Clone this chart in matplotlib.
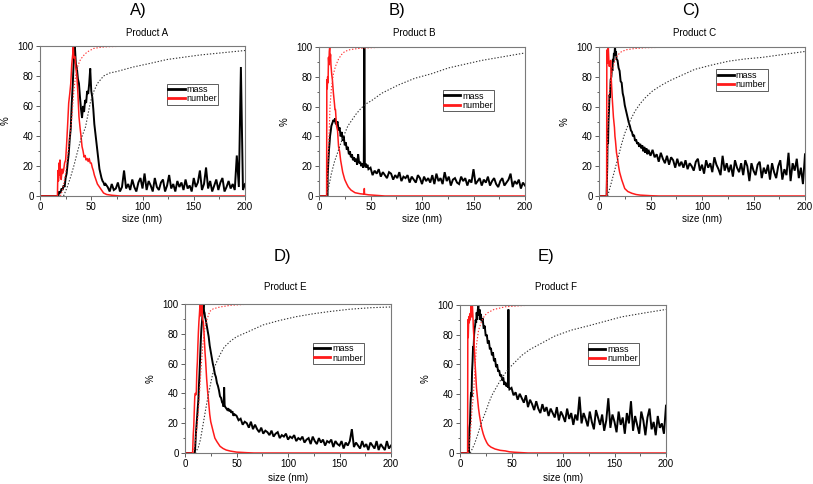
import numpy as np
import matplotlib
matplotlib.use("Agg")
import matplotlib.pyplot as plt
from matplotlib.ticker import MultipleLocator

plt.rcParams["font.family"] = ["Liberation Sans", "DejaVu Sans"]

# ---- Product A ----
a_mass_x = [0, 18, 18.5, 20, 21, 22, 23, 24, 25, 26,
            27, 28, 29, 30, 31, 32, 33, 34, 35, 36, 37, 38, 39, 40, 41, 42, 43, 44, 45, 46,
            47, 48, 49, 50, 51, 52, 53, 54, 55, 56, 57, 58, 59, 60, 61, 62, 63, 64]
a_mass_y = [0, 0, 3, 2, 5, 4, 7, 6, 12, 15,
            22, 28, 38, 45, 62, 75, 92, 100, 88, 85, 78, 75, 66, 58, 52, 60, 56, 64, 62, 70,
            68, 75, 85, 70, 66, 58, 48, 42, 36, 30, 24, 18, 15, 12, 10, 9, 7, 8]
a_mass_tail = [6, 3, 8, 4, 5, 9, 3, 6, 17, 5, 8, 4, 11, 6, 3, 9, 12, 5, 15, 4,
               10, 7, 3, 12, 6, 4, 9, 11, 3, 7, 14, 5, 8, 3, 10, 6, 9, 4, 11, 5,
               7, 3, 12, 6, 9, 17, 4, 8, 19, 5, 10, 3, 7, 11, 4, 9, 12, 3, 6, 10,
               5, 8, 4, 27, 6, 86, 4, 8]
a_num_x = [0, 17, 17.5, 18, 18.5, 19, 19.5, 20, 20.7, 21.5,
           22, 23, 24, 25, 26, 27, 28, 29, 30, 31,
           32, 32.5, 33, 34, 35, 36, 37, 38, 39, 40,
           41, 42, 43, 44, 45, 46, 47, 48, 49, 50,
           51, 52, 53, 54, 55, 56, 58, 60, 62, 65, 70, 78, 200]
a_num_y = [0, 0, 17, 10, 22, 14, 24, 12, 11, 18,
           15, 17, 22, 24, 35, 48, 62, 68, 75, 88,
           95, 100, 92, 93, 85, 80, 68, 53, 46, 40,
           33, 30, 26, 27, 24, 25, 23, 25, 22, 22,
           19, 17, 14, 12, 10, 8, 6, 4, 2, 1, 0.5, 0, 0]
a_cnum_x = [20, 22, 25, 28, 30, 31.4, 33, 34.7, 37, 39.5, 43, 46, 52.5, 60, 65.5, 80, 100, 200]
a_cnum_y = [0, 4, 15, 33, 45, 55, 70, 80, 87, 91, 94, 96, 98.4, 99.2, 99.5, 99.8, 100, 100]
a_cmass_x = [23, 26.6, 30, 33, 36, 39.5, 44.4, 49, 52, 56,
             62, 68, 75, 91, 108, 124, 140, 156, 178, 200]
a_cmass_y = [0, 6, 13, 20, 28, 37, 46, 62, 69, 75,
             80, 82, 83, 86, 88.5, 91, 92.5, 94, 95.5, 97]

# ---- Product B ----
b_mass_x = [0, 8.3, 8.4, 9, 9.7, 10.3, 10.7, 11.5, 12, 13,
            14, 15, 15.5, 16, 17, 18, 19, 20, 21, 22,
            23, 24, 25, 26, 27, 28, 29, 30, 31, 32,
            33, 34, 35, 36, 37, 38, 39, 40, 41, 42,
            43, 43.5, 44, 44.5, 45, 46, 47, 48]
b_mass_y = [0, 0, 13, 22, 31, 36, 40, 44, 47, 49,
            51, 50, 52, 49, 48, 50, 44, 46, 40, 43,
            37, 40, 34, 36, 31, 33, 28, 30, 26, 28,
            24, 26, 23, 25, 21, 28, 22, 23, 20, 22,
            19, 21, 100, 20, 22, 19, 21, 18]
b_mass_tail = [19, 14, 17, 15, 18, 13, 16, 14, 12, 16, 15, 11, 14, 12, 16, 10, 13, 12, 14, 9,
               13, 11, 9, 14, 12, 8, 13, 10, 12, 9, 14, 8, 15, 10, 12, 8, 16, 10, 13, 7,
               11, 12, 9, 8, 13, 10, 12, 7, 11, 9, 18, 8, 10, 12, 7, 11, 9, 13, 7, 10,
               12, 8, 6, 10, 12, 7, 9, 11, 15, 6, 10, 8, 11, 5, 9, 7]
b_num_x = [0, 7.4, 7.6, 8, 8.4, 8.8, 9.2, 9.6, 10, 10.4,
           10.8, 11.2, 11.6, 12.3, 13, 14, 15, 15.5, 16, 17,
           18, 19, 20, 21, 22, 23, 25, 27, 28.5, 31,
           35, 40, 43.8, 44, 44.2, 48, 54, 64, 200]
b_num_y = [0, 0, 78, 72, 80, 76, 93, 88, 97, 100,
           92, 95, 88, 82, 78, 69, 62, 58, 58, 47,
           44, 33, 30, 24, 20, 16, 11, 8, 6, 4,
           2.2, 1.5, 1.2, 5, 1.2, 0.8, 0.5, 0, 0]
b_cnum_x = [7.4, 8, 9, 10, 10.7, 12, 14, 16, 19, 22, 25, 30, 38, 50, 61, 80, 200]
b_cnum_y = [0, 8, 26, 45, 60, 72, 82, 87, 92, 95, 97, 98.2, 99, 99.5, 99.8, 100, 100]
b_cmass_x = [7.4, 10, 12, 15, 19, 22, 25, 28, 32, 36,
             41, 46, 51, 61, 77, 93, 109, 126, 142, 158, 179, 200]
b_cmass_y = [0, 8, 15, 23, 31, 37, 42, 47, 51, 55,
             59, 62, 64, 69, 74.5, 79, 82, 86, 88.5, 91, 93.5, 96]

# ---- Product C ----
c_mass_x = [0, 7.4, 8, 8.4, 8.8, 9.2, 9.7, 10.2, 10.7, 11.3,
            12, 12.5, 13, 13.5, 14, 14.5, 15, 15.5, 16, 16.5,
            17, 18, 19, 20, 21, 22, 23, 24, 25, 26,
            27, 28, 29, 30, 31, 32, 33, 34, 35, 36,
            37, 38, 39, 40, 41, 42, 43, 44, 45, 46, 47, 48]
c_mass_y = [0, 0, 20, 45, 35, 50, 58, 68, 66, 78,
            80, 86, 84, 92, 90, 96, 94, 100, 96, 97,
            92, 91, 86, 84, 77, 76, 69, 66, 61, 58,
            55, 52, 49, 47, 44, 43, 40, 41, 37, 38,
            35, 36, 33, 35, 32, 34, 30, 33, 29, 32, 28, 31]
c_mass_tail = [27, 31, 26, 28, 23, 29, 25, 22, 27, 21, 26, 24, 19, 25, 20, 23, 19, 24, 18, 22,
               20, 17, 23, 25, 17, 21, 15, 24, 19, 22, 16, 26, 21, 18, 14, 27, 17, 22, 16, 21,
               13, 24, 19, 16, 22, 14, 24, 20, 10, 22, 17, 14, 21, 23, 12, 19, 15, 21, 11, 22,
               16, 12, 20, 24, 11, 18, 14, 29, 10, 22, 17, 25, 12, 19, 8, 28]
c_num_x = [0, 7.4, 7.6, 8, 8.4, 8.8, 9, 9.5, 10, 10.5,
           11, 11.3, 11.8, 12.3, 13, 14, 15, 15.5, 16, 17,
           18, 19, 20, 22, 23, 25, 28, 32, 36, 40,
           45, 50, 58, 200]
c_num_y = [0, 0, 98, 90, 89, 95, 100, 92, 87, 90,
           88, 91, 80, 73, 64, 53, 46, 40, 37, 29,
           25, 20, 16, 11, 9, 5, 3, 1.8, 1, 0.6,
           0.4, 0.2, 0, 0]
c_cnum_x = [7.4, 8, 8.4, 9, 9.7, 11, 12.3, 14, 15.5, 18, 22, 27, 35, 45, 61, 80, 200]
c_cnum_y = [0, 15, 38, 55, 67, 76, 82, 87, 91, 94.5, 97, 98.2, 99, 99.5, 99.8, 100, 100]
c_cmass_x = [8.4, 10, 12, 15.5, 19, 22, 25, 28.5, 32, 35,
             40, 45, 52, 61, 69, 77, 93, 110, 126, 142, 158, 179, 200]
c_cmass_y = [0, 4, 9, 18, 27, 35, 42, 48, 53, 57,
             62, 66, 70.5, 74.5, 77.5, 80, 85, 88, 90.5, 92, 93, 95, 97]

# ---- Product E ----
e_mass_x = [0, 9.5, 10, 10.5, 11, 11.5, 12, 12.5, 13, 13.5,
            14, 14.5, 15, 15.5, 16, 16.5, 17, 17.5, 18, 18.5,
            19, 19.5, 20, 21, 22, 23, 24, 25, 26, 27,
            28, 29, 30, 31, 32, 33, 34, 35, 36, 37,
            37.5, 38, 38.5, 39, 40, 41, 42, 43, 44, 45, 46, 47, 48]
e_mass_y = [0, 0, 5, 12, 17, 22, 28, 32, 36, 45,
            52, 61, 70, 78, 84, 88, 93, 97, 100, 95,
            94, 91, 90, 86, 82, 78, 72, 68, 64, 60,
            57, 53, 51, 47, 45, 42, 38, 37, 34, 33,
            31, 44, 32, 31, 30, 29, 30, 28, 29, 27, 28, 25, 26]
e_mass_tail = [25, 22, 23, 19, 21, 20, 17, 21, 16, 19, 16, 14, 17, 13, 15, 14, 12, 15, 11, 13,
               14, 10, 12, 11, 13, 9, 11, 10, 12, 8, 10, 9, 11, 7, 9, 10, 6, 11, 8, 6,
               10, 7, 9, 5, 8, 7, 9, 4, 8, 6, 5, 8, 3, 7, 5, 8, 16, 4, 7, 5,
               3, 8, 4, 6, 2, 7, 5, 3, 8, 2, 6, 4, 2, 8, 3, 5]
e_num_x = [0, 7.4, 8, 8.5, 9, 9.5, 10, 10.5, 11, 11.5,
           12, 12.5, 13, 13.5, 14, 14.5, 15, 15.5, 16, 16.5,
           17, 17.8, 18.5, 19.4, 20, 21, 22, 22.6, 24, 25,
           27.5, 29, 31, 34, 37, 40, 44, 50, 60, 67, 200]
e_num_y = [0, 0, 12, 18, 28, 38, 40, 39, 41, 55,
           61, 72, 81, 88, 93, 99, 92, 100, 95, 99,
           90, 88, 80, 68, 62, 50, 41, 37, 26, 21,
           14, 10, 7.6, 4.5, 3, 2, 1.3, 0.6, 0.2, 0, 0]
e_cnum_x = [8, 10, 12, 13, 14.5, 16, 17.5, 19.4, 21, 24, 27.5, 34, 45, 60, 80, 200]
e_cnum_y = [0, 8, 20, 28, 45, 61, 74, 84, 89, 95, 96.8, 98, 99.2, 99.8, 100, 100]
e_cmass_x = [10, 13, 15, 18, 20, 22.6, 25, 27.5, 30, 34,
             38, 44, 50, 60, 76, 92, 108, 125, 141, 160, 180, 200]
e_cmass_y = [0, 4, 9, 21, 29, 39, 47, 55, 60, 66,
             71, 75, 78, 81, 86, 89, 91.5, 93.5, 95, 96.5, 97.5, 98]

# ---- Product F ----
f_mass_x = [0, 8.7, 9.2, 9.7, 10.2, 10.7, 11.2, 11.7, 12.2, 12.7,
            13.2, 13.7, 14.2, 14.7, 15.2, 15.7, 16.2, 16.7, 17.2, 17.8,
            18.4, 19, 19.6, 20.2, 21, 22, 23, 24, 25, 26,
            27, 28, 29, 30, 31, 32, 33, 34, 35, 36,
            37, 38, 39, 40, 41, 42, 43, 44, 45, 46,
            46.6, 47, 47.4, 48]
f_mass_y = [0, 0, 17, 20, 33, 41, 38, 55, 62, 72,
            70, 80, 84, 86, 90, 88, 95, 90, 96, 100,
            93, 97, 90, 94, 89, 91, 84, 86, 79, 80,
            74, 76, 70, 71, 66, 68, 62, 64, 58, 60,
            55, 56, 52, 53, 49, 51, 46, 48, 45, 47,
            44, 97, 45, 43]
f_mass_tail = [44, 39, 41, 36, 40, 37, 34, 39, 31, 36, 33, 29, 35, 30, 27, 33, 28, 31, 25, 30,
               27, 24, 31, 22, 28, 25, 21, 30, 23, 27, 19, 26, 22, 38, 20, 27, 23, 18, 28, 21,
               16, 29, 24, 19, 26, 15, 22, 37, 17, 26, 21, 14, 28, 19, 24, 13, 27, 20, 35, 15,
               25, 19, 13, 28, 22, 12, 24, 30, 16, 21, 12, 25, 17, 20, 13, 32]
f_num_x = [0, 7.4, 7.6, 8, 8.5, 9, 9.5, 10, 10.7, 11.3,
           12, 12.5, 13, 13.5, 14, 14.5, 15, 16, 17, 18,
           19, 20, 21, 22.5, 24, 26, 27.5, 30, 34, 39,
           44, 48, 53, 66, 200]
f_num_y = [0, 0, 90, 78, 92, 88, 94, 90, 99, 92,
           100, 93, 84, 78, 70, 62, 56, 44, 37, 30,
           25, 21, 17, 13, 10, 7, 5.4, 4, 2.7, 1.8,
           1.4, 0.8, 0.5, 0, 0]
f_cnum_x = [8, 10, 11.5, 13, 14.5, 16, 18, 21, 24, 27.5, 33, 44, 60, 76, 200]
f_cnum_y = [0, 12, 28, 39, 56, 73, 83, 89, 93, 95, 97, 98.8, 99.6, 100, 100]
f_cmass_x = [10, 14, 17, 21, 25, 28, 31, 35, 40, 45,
             50, 55, 60, 68, 76, 84, 92, 108, 125, 141, 157, 178, 200]
f_cmass_y = [0, 6, 12, 21, 28, 34, 39, 44, 50, 55,
             59, 62.5, 66, 70, 73, 76, 79, 83, 86, 89, 92, 94.5, 97]

W, H = 813, 484
fig = plt.figure(figsize=(W / 100, H / 100), dpi=100)


def px_axes(l, r, t, b):
    return fig.add_axes([l / W, 1 - b / H, (r - l) / W, (b - t) / H])


def panel(box, letter, letter_xy, title, title_xy, ylab_x, xlab_y, leg_pos,
          mx, my, tail_start, mtail, nx, ny, cnx, cny, cmx, cmy):
    ax = px_axes(*box)
    tx = np.linspace(tail_start, 200, len(mtail))
    ax.plot(list(mx) + list(tx), list(my) + list(mtail), color="black", lw=1.4,
            solid_joinstyle="miter")
    ax.plot(nx, ny, color="#ff1a1a", lw=1.1)
    ax.plot(cmx, cmy, color="#333333", lw=0.8, ls=(0, (1.2, 1.6)))
    ax.plot(cnx, cny, color="#ff3030", lw=0.8, ls=(0, (1.2, 1.6)))
    ax.set_xlim(0, 200)
    ax.set_ylim(0, 100)
    ax.xaxis.set_major_locator(MultipleLocator(50))
    ax.xaxis.set_minor_locator(MultipleLocator(25))
    ax.yaxis.set_major_locator(MultipleLocator(20))
    ax.yaxis.set_minor_locator(MultipleLocator(10))
    ax.tick_params(which="both", direction="out", labelsize=7, pad=1.5,
                   color="#444444", width=0.6)
    ax.tick_params(which="major", length=3)
    ax.tick_params(which="minor", length=1.8)
    for s in ax.spines.values():
        s.set_color("#7a7a7a")
        s.set_linewidth(0.8)
    h1, = ax.plot([], [], color="black", lw=2)
    h2, = ax.plot([], [], color="#ff1a1a", lw=2)
    leg = ax.legend([h1, h2], ["mass", "number"], loc="upper left",
                    bbox_to_anchor=leg_pos, fontsize=6.5, frameon=True,
                    fancybox=False, borderpad=0.15, handlelength=1.8,
                    handletextpad=0.2, labelspacing=0.05, borderaxespad=0)
    leg.get_frame().set_edgecolor("#333333")
    leg.get_frame().set_linewidth(0.7)
    l, r, t, b = box
    fig.text(letter_xy[0] / W, 1 - letter_xy[1] / H, letter, fontsize=12,
             ha="center", va="center")
    fig.text(title_xy[0] / W, 1 - title_xy[1] / H, title, fontsize=7,
             ha="center", va="center")
    fig.text(ylab_x / W, 1 - (t + b) / 2 / H, "%", fontsize=7, rotation=90,
             ha="center", va="center")
    fig.text((l + r) / 2 / W, 1 - xlab_y / H, "size (nm)", fontsize=7,
             ha="center", va="center")
    return ax


panel((40, 245, 46, 196), "A)", (138, 10), "Product A", (147, 33), 6, 219,
      (0.62, 0.75), a_mass_x, a_mass_y, 66, a_mass_tail, a_num_x, a_num_y,
      a_cnum_x, a_cnum_y, a_cmass_x, a_cmass_y)
panel((319, 525, 47, 196), "B)", (397, 10), "Product B", (414, 33), 285, 219,
      (0.60, 0.71), b_mass_x, b_mass_y, 50, b_mass_tail, b_num_x, b_num_y,
      b_cnum_x, b_cnum_y, b_cmass_x, b_cmass_y)
panel((599, 805, 47, 196), "C)", (691, 10), "Product C", (695, 33), 565, 219,
      (0.57, 0.85), c_mass_x, c_mass_y, 50, c_mass_tail, c_num_x, c_num_y,
      c_cnum_x, c_cnum_y, c_cmass_x, c_cmass_y)
panel((185, 391, 304, 453), "D)", (282, 256), "Product E", (285, 287), 151, 478,
      (0.62, 0.74), e_mass_x, e_mass_y, 50, e_mass_tail, e_num_x, e_num_y,
      e_cnum_x, e_cnum_y, e_cmass_x, e_cmass_y)
panel((460, 666, 305, 453), "E)", (546, 256), "Product F", (556, 287), 426, 478,
      (0.62, 0.74), f_mass_x, f_mass_y, 50, f_mass_tail, f_num_x, f_num_y,
      f_cnum_x, f_cnum_y, f_cmass_x, f_cmass_y)

fig.savefig("out.png", dpi=100)
